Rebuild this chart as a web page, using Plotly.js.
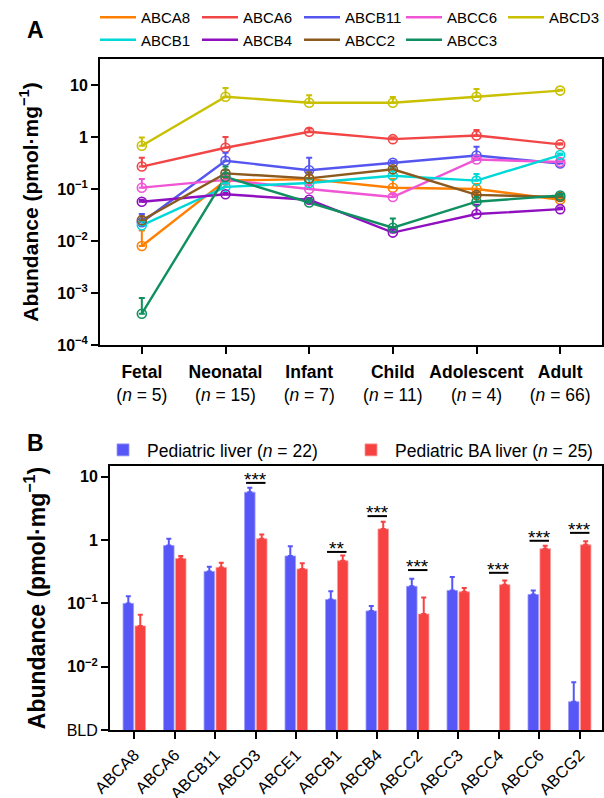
<!DOCTYPE html>
<html>
<head>
<meta charset="utf-8">
<script src="https://cdn.plot.ly/plotly-3.0.1.min.js"></script>
<style>html,body{margin:0;padding:0;background:#fff;}#chart{width:604px;height:798px;}</style>
</head>
<body>
<div id="chart"></div>
<script>
// ---------- Panel A data ----------
const stages = ["Fetal", "Neonatal", "Infant", "Child", "Adolescent", "Adult"];
const stageN = [5, 15, 7, 11, 4, 66];
const seriesNames = ["ABCA8", "ABCA6", "ABCB11", "ABCC6", "ABCD3", "ABCB1", "ABCB4", "ABCC2", "ABCC3"];
const seriesColors = ["#FF7F00", "#F24545", "#5555F0", "#F055D5", "#C8C000", "#00D8D8", "#9010C0", "#8B5A1E", "#109060"];
const ABCA8 = [0.008, 0.145, 0.155, 0.106, 0.10, 0.062];
const ABCA8_err = [0.008, 0.03, 0.03, 0.05, 0.025, 0.005];
const ABCA6 = [0.27, 0.62, 1.26, 0.91, 1.07, 0.72];
const ABCA6_err = [0.13, 0.38, 0.2, 0.08, 0.3, 0.04];
const ABCB11 = [0.023, 0.35, 0.23, 0.32, 0.44, 0.31];
const ABCB11_err = [0.01, 0.15, 0.17, 0.03, 0.21, 0.02];
const ABCC6 = [0.106, 0.15, 0.10, 0.07, 0.37, 0.33];
const ABCC6_err = [0.05, 0.03, 0.02, 0.01, 0.03, 0.01];
const ABCD3 = [0.68, 5.96, 4.56, 4.56, 5.96, 7.8];
const ABCD3_err = [0.3, 2.8, 1.8, 1.3, 2.4, 0.3];
const ABCB1 = [0.020, 0.11, 0.13, 0.18, 0.145, 0.45];
const ABCB1_err = [0.005, 0.02, 0.03, 0.07, 0.05, 0.03];
const ABCB4 = [0.057, 0.079, 0.062, 0.0145, 0.033, 0.041];
const ABCB4_err = [0.005, 0.005, 0.005, 0.002, 0.017, 0.003];
const ABCC2 = [0.025, 0.2, 0.16, 0.24, 0.077, 0.07];
const ABCC2_err = [0.005, 0.03, 0.05, 0.03, 0.01, 0.005];
const ABCC3 = [0.0004, 0.17, 0.055, 0.018, 0.057, 0.075];
const ABCC3_err = [0.0004, 0.1, 0.005, 0.009, 0.013, 0.005];
const seriesValues = [ABCA8, ABCA6, ABCB11, ABCC6, ABCD3, ABCB1, ABCB4, ABCC2, ABCC3];
const seriesErrors = [ABCA8_err, ABCA6_err, ABCB11_err, ABCC6_err, ABCD3_err, ABCB1_err, ABCB4_err, ABCC2_err, ABCC3_err];
const yTickValsA = [1e-4, 1e-3, 1e-2, 1e-1, 1, 10];
const yTickTextA = ["10<sup>−4</sup>", "10<sup>−3</sup>", "10<sup>−2</sup>", "10<sup>−1</sup>", "1", "10"];

// ---------- Panel B data ----------
const transporters = ["ABCA8", "ABCA6", "ABCB11", "ABCD3", "ABCE1", "ABCB1", "ABCB4", "ABCC2", "ABCC3", "ABCC4", "ABCC6", "ABCG2"];
const pediatric = [0.10, 0.82, 0.32, 5.7, 0.56, 0.115, 0.076, 0.186, 0.16, null, 0.138, 0.0028];
const pediatric_err = [0.03, 0.23, 0.06, 1.0, 0.24, 0.04, 0.015, 0.059, 0.10, 0, 0.022, 0.0029];
const pediatricBA = [0.044, 0.51, 0.37, 1.05, 0.35, 0.47, 1.5, 0.068, 0.152, 0.197, 0.73, 0.84];
const pediatricBA_err = [0.022, 0.05, 0.07, 0.18, 0.08, 0.10, 0.45, 0.056, 0.023, 0.033, 0.08, 0.12];
const significance = ["", "", "", "***", "", "**", "***", "***", "", "***", "***", "***"];
const sigLineLevel = [null, null, null, 8.0, null, 0.65, 2.39, 0.336, null, 0.304, 0.975, 1.3];
const yTickValsB = [1e-3, 1e-2, 1e-1, 1, 10];
const yTickTextB = ["BLD", "<b>10<sup>−2</sup></b>", "<b>10<sup>−1</sup></b>", "<b>1</b>", "<b>10</b>"];

const FONT = "Liberation Sans, Arial, Helvetica, sans-serif";
const W = 604, H = 798;

const traces = [];
// line traces (shown in legend as plain lines)
seriesNames.forEach((name, i) => {
  traces.push({
    type: "scatter", mode: "lines", name: name, legendgroup: name,
    x: stages, y: seriesValues[i],
    xaxis: "x", yaxis: "y", legend: "legend",
    line: {color: seriesColors[i], width: 2.4}
  });
});
// markers with upward error bars
seriesNames.forEach((name, i) => {
  traces.push({
    type: "scatter", mode: "markers", name: name, legendgroup: name, showlegend: false,
    x: stages, y: seriesValues[i],
    xaxis: "x", yaxis: "y",
    marker: {symbol: "circle-open", size: 9, color: seriesColors[i], line: {width: 1.6}},
    error_y: {type: "data", symmetric: false, array: seriesErrors[i], arrayminus: seriesErrors[i].map(() => 0),
              color: seriesColors[i], thickness: 2, width: 3}
  });
});

traces.push({
  type: "bar", name: "Pediatric liver (<i>n</i> = 22)", x: transporters, y: pediatric,
  xaxis: "x2", yaxis: "y2", legend: "legend2",
  marker: {color: "#5757F7", line: {color: "#9A9AFA", width: 0.8}},
  error_y: {type: "data", symmetric: false, array: pediatric_err, arrayminus: pediatric_err.map(() => 0),
            color: "#5757F7", thickness: 2, width: 2.5}
});
traces.push({
  type: "bar", name: "Pediatric BA liver (<i>n</i> = 25)", x: transporters, y: pediatricBA,
  xaxis: "x2", yaxis: "y2", legend: "legend2",
  marker: {color: "#F74242", line: {color: "#FA9A9A", width: 0.8}},
  error_y: {type: "data", symmetric: false, array: pediatricBA_err, arrayminus: pediatricBA_err.map(() => 0),
            color: "#F74242", thickness: 2, width: 2.5}
});

const shapes = [];
const annotations = [];
transporters.forEach((t, i) => {
  if (significance[i]) {
    shapes.push({type: "line", xref: "x2", yref: "y2", x0: i - 0.24, x1: i + 0.24,
                 y0: sigLineLevel[i], y1: sigLineLevel[i], line: {color: "#000", width: 2}});
    annotations.push({xref: "x2", yref: "y2", x: i, y: Math.log10(sigLineLevel[i]), text: significance[i],
                      showarrow: false, yanchor: "bottom", yshift: -9, font: {family: FONT, size: 19, color: "#000"}});
  }
});
annotations.push({xref: "paper", yref: "paper", x: 35 / W, y: 1 - 30 / H, text: "<b>A</b>", showarrow: false,
                  xanchor: "center", yanchor: "middle", font: {family: FONT, size: 23, color: "#000"}});
annotations.push({xref: "paper", yref: "paper", x: 35 / W, y: 1 - 443 / H, text: "<b>B</b>", showarrow: false,
                  xanchor: "center", yanchor: "middle", font: {family: FONT, size: 23, color: "#000"}});

const axisCommon = {showline: true, linewidth: 2, linecolor: "#000", mirror: true, ticks: "outside",
                    ticklen: 7, tickwidth: 2, tickcolor: "#000", showgrid: false, zeroline: false, automargin: false};

const layout = {
  width: W, height: H,
  margin: {l: 0, r: 0, t: 0, b: 0, autoexpand: false},
  paper_bgcolor: "#fff", plot_bgcolor: "#fff",
  font: {family: FONT, color: "#000"},
  showlegend: true,
  barmode: "group", bargap: 0.41, bargroupgap: 0.12,
  xaxis: Object.assign({}, axisCommon, {
    domain: [100 / W, 602 / W], anchor: "y", type: "category", range: [-0.5, 5.5],
    tickvals: stages, ticktext: stages.map((s, i) => "<b>" + s + "</b><br>(<i>n</i> = " + stageN[i] + ")"),
    tickfont: {size: 17.5, family: FONT}, ticklabelstandoff: 3
  }),
  yaxis: Object.assign({}, axisCommon, {
    domain: [1 - 345 / H, 1 - 59 / H], anchor: "x", type: "log", range: [-4, 1.5],
    tickvals: yTickValsA, ticktext: yTickTextA.map(t => "<b>" + t + "</b>"),
    tickfont: {size: 16, family: FONT},
    title: {text: "<b>Abundance (pmol·mg<sup>−1</sup>)</b>", font: {size: 21, family: FONT}, standoff: 13}
  }),
  xaxis2: Object.assign({}, axisCommon, {
    domain: [110 / W, 602 / W], anchor: "y2", type: "category", range: [-0.6, 11.55],
    tickangle: -45, tickfont: {size: 16.5, family: FONT}
  }),
  yaxis2: Object.assign({}, axisCommon, {
    domain: [1 - 730 / H, 1 - 466 / H], anchor: "x2", type: "log", range: [-3, 1.17],
    tickvals: yTickValsB, ticktext: yTickTextB,
    tickfont: {size: 16, family: FONT},
    title: {text: "<b>Abundance (pmol·mg<sup>−1</sup>)</b>", font: {size: 23, family: FONT}, standoff: 15}
  }),
  legend: {orientation: "h", xref: "paper", yref: "paper", x: 95 / W, y: 1 - 1 / H,
           xanchor: "left", yanchor: "top", itemwidth: 36, entrywidth: 51, entrywidthmode: "pixels", tracegroupgap: 0,
           font: {size: 15, family: FONT}, bgcolor: "rgba(0,0,0,0)"},
  legend2: {orientation: "h", xref: "paper", yref: "paper", x: 99 / W, y: 1 - 432 / H,
            xanchor: "left", yanchor: "top", itemwidth: 38, entrywidth: 195, entrywidthmode: "pixels",
            font: {size: 17.5, family: FONT}, bgcolor: "rgba(0,0,0,0)"},
  shapes: shapes,
  annotations: annotations
};

Plotly.newPlot("chart", traces, layout, {displayModeBar: false, staticPlot: true});
</script>
</body>
</html>
